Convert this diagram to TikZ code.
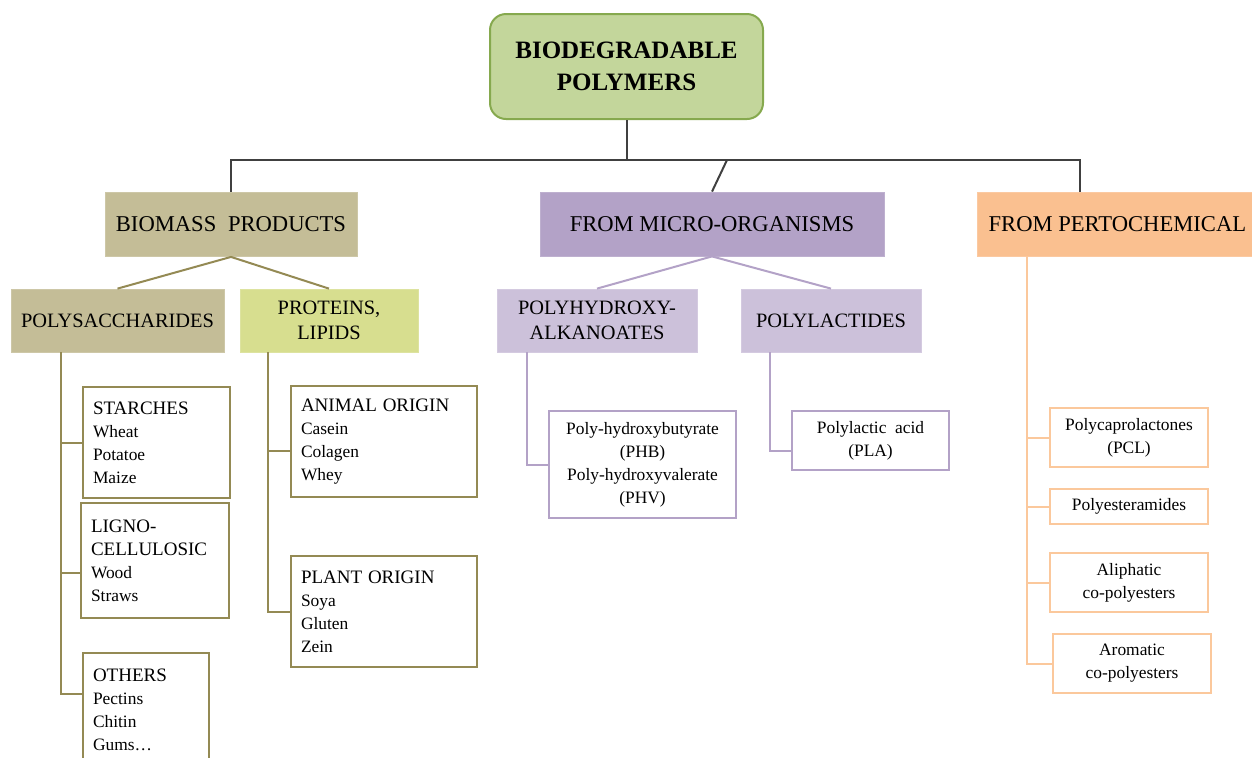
\documentclass[tikz,border=0pt]{standalone}
\usepackage{fontspec}
\setmainfont{Liberation Serif}
\usepackage{tikz}
\usepackage{xcolor}
\usetikzlibrary{positioning,calc}
\definecolor{Trunk}{HTML}{404040}
\definecolor{TitleFill}{HTML}{C3D69B}
\definecolor{TitleLine}{HTML}{86A94E}
\definecolor{Khaki}{HTML}{C4BD97}
\definecolor{Olive}{HTML}{948A54}
\definecolor{Lime}{HTML}{D7DE8F}
\definecolor{Purple}{HTML}{B3A2C7}
\definecolor{Lilac}{HTML}{CCC1DA}
\definecolor{Peach}{HTML}{FAC090}
\definecolor{PeachLine}{HTML}{FBC89C}

\begin{document}
\begin{tikzpicture}[
  x=0.5pt,y=-0.5pt,
  title/.style={draw=TitleLine,fill=TitleFill,line width=1pt,rounded corners=8pt,align=center,
    minimum width=136.5pt,minimum height=52.5pt,font=\fontsize{12.5}{16}\selectfont\bfseries},
  cat/.style={draw=#1!85!white,fill=#1,line width=0.4pt,align=center,minimum height=32pt,
    font=\fontsize{11.3}{12.5}\selectfont},
  sub/.style={draw=#1!85!white,fill=#1,line width=0.4pt,align=center,minimum height=31.5pt,
    font=\fontsize{10.2}{12.5}\selectfont},
  leaf/.style={draw=Olive,fill=white,line width=1pt,align=left,anchor=north west,inner xsep=5pt,
    font=\fontsize{8.7}{11.5}\selectfont},
  item/.style={draw=#1,fill=white,line width=1pt,align=center,anchor=north west,
    font=\fontsize{8.7}{11.5}\selectfont},
  trunk/.style={draw=Trunk,line width=1pt},
  branch/.style={draw=#1,line width=1pt}
]
\newcommand{\hd}[1]{{\fontsize{9.5}{12.5}\selectfont #1}}
\useasboundingbox (0,0) rectangle (1252,757);

% top of the tree
\node[title] (top) at (626.5,66.5) {BIODEGRADABLE\\POLYMERS};
\node[cat=Khaki,minimum width=126pt] (biomass) at (231,224.5) {BIOMASS\hspace{3pt} PRODUCTS};
\node[cat=Purple,minimum width=172pt] (micro) at (712,224) {FROM MICRO-ORGANISMS};
\node[cat=Peach,minimum width=140pt,anchor=west] (petro) at (977,224) {FROM PERTOCHEMICAL};

\coordinate (hub) at (626.5,160);
\coordinate (kink) at (727,160);
\draw[trunk] (top.south) -- (hub);
\draw[trunk] (hub) -| (biomass.north);
\draw[trunk] (hub) -| ([xshift=51.5pt]petro.north west);
\draw[trunk] (kink) -- (micro.north);

% second level
\node[sub=Khaki,minimum width=106.5pt] (polysacch) at (117.5,320.5) {POLYSACCHARIDES};
\node[sub=Lime,minimum width=89pt] (proteins) at (329,320.5) {PROTEINS,\\LIPIDS};
\node[sub=Lilac,minimum width=100pt] (pha) at (597,320.5) {POLYHYDROXY-\\ALKANOATES};
\node[sub=Lilac,minimum width=90pt] (pla) at (831,320.5) {POLYLACTIDES};

\foreach \a/\b in {biomass/polysacch,biomass/proteins} {
  \draw[branch=Olive] (\a.south) -- (\b.north);
}
\foreach \a/\b in {micro/pha,micro/pla} {
  \draw[branch=Purple] (\a.south) -- (\b.north);
}

% biomass leaves
\node[leaf,text width=63.5pt,minimum height=55.5pt] (starch) at (82,386)
  {\hd{STARCHES}\\Wheat\\Potatoe\\Maize};
\node[leaf,text width=64pt,minimum height=57.5pt] (ligno) at (80,502)
  {\hd{LIGNO-}\\\hd{CELLULOSIC}\\Wood\\Straws};
\node[leaf,text width=53pt,minimum height=56.5pt] (others) at (82,652)
  {\hd{OTHERS}\\Pectins\\Chitin\\Gums\dots};
\node[leaf,text width=83pt,minimum height=55.5pt] (animal) at (290,385)
  {\hd{ANIMAL ORIGIN}\\Casein\\Colagen\\Whey};
\node[leaf,text width=83pt,minimum height=55.5pt] (plant) at (290,555)
  {\hd{PLANT ORIGIN}\\Soya\\Gluten\\Zein};

\foreach \b/\s in {starch/0pt,ligno/-6pt,others/8pt} {
  \draw[branch=Olive] ([xshift=25pt]polysacch.south west) |- ([yshift=\s]\b.west);
}
\foreach \b/\s in {animal/-4.5pt,plant/0pt} {
  \draw[branch=Olive] ([xshift=14pt]proteins.south west) |- ([yshift=\s]\b.west);
}

% micro-organism leaves
\node[item=Purple,minimum width=93.5pt,minimum height=53.5pt] (phb) at (548,410)
  {Poly-hydroxybutyrate\\(PHB)\\Poly-hydroxyvalerate\\(PHV)};
\node[item=Purple,minimum width=78.5pt,minimum height=29.5pt] (plaacid) at (791,410)
  {Polylactic\ \ acid\\(PLA)};
\draw[branch=Purple] ([xshift=15pt]pha.south west) |- (phb.west);
\draw[branch=Purple] ([xshift=14.5pt]pla.south west) |- ([yshift=-5pt]plaacid.west);

% petrochemical leaves
\node[item=PeachLine,minimum width=79pt,minimum height=29.5pt] (pcl) at (1049,407)
  {Polycaprolactones\\(PCL)};
\node[item=PeachLine,minimum width=79pt,minimum height=17.5pt] (pea) at (1049,488)
  {Polyesteramides};
\node[item=PeachLine,minimum width=79pt,minimum height=29.5pt] (alip) at (1049,552)
  {Aliphatic\\co-polyesters};
\node[item=PeachLine,minimum width=79pt,minimum height=29.5pt] (arom) at (1052,633)
  {Aromatic\\co-polyesters};
\foreach \b in {pcl,pea,alip,arom} {
  \draw[branch=PeachLine] ([xshift=25pt]petro.south west) |- (\b.west);
}
\end{tikzpicture}
\end{document}
